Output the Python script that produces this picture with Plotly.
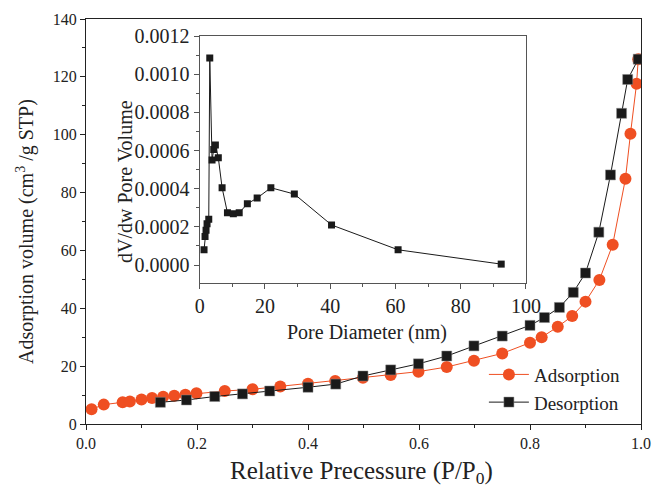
import plotly.graph_objects as go

# Main isotherm data
ads_p = [0.01, 0.032, 0.066, 0.079, 0.100, 0.119, 0.139, 0.159, 0.179, 0.199, 0.25, 0.30, 0.35, 0.40,
         0.449, 0.499, 0.549, 0.599, 0.650, 0.699, 0.750, 0.800, 0.821, 0.850, 0.876, 0.900, 0.925,
         0.949, 0.972, 0.981, 0.992, 0.995]
ads_v = [5.1, 6.7, 7.5, 7.8, 8.5, 9.0, 9.4, 9.8, 10.1, 10.6, 11.4, 12.0, 13.0, 13.9,
         14.9, 16.0, 16.9, 18.1, 19.7, 21.9, 24.4, 28.1, 30.0, 33.6, 37.3, 42.3, 49.8,
         62.0, 84.8, 100.3, 117.6, 126.1]
des_p = [0.134, 0.181, 0.232, 0.282, 0.331, 0.40, 0.450, 0.499, 0.549, 0.599, 0.650, 0.699, 0.750,
         0.800, 0.826, 0.853, 0.878, 0.900, 0.924, 0.945, 0.965, 0.976, 0.995]
des_v = [7.5, 8.3, 9.5, 10.4, 11.4, 12.7, 13.8, 16.6, 18.7, 20.8, 23.5, 27.0, 30.4,
         34.1, 36.8, 40.3, 45.5, 52.2, 66.3, 86.1, 107.4, 119.1, 126.1]

# Inset pore size distribution
pore_d = [1.32, 1.63, 1.94, 2.25, 2.77, 3.08, 3.78, 4.3, 4.8, 5.7, 6.86, 8.5, 10.3, 12.1, 14.6,
          17.6, 21.8, 29.0, 40.4, 60.8, 92.4]
pore_v = [0.00008, 0.000150, 0.000182, 0.000217, 0.000240, 0.001085, 0.000550, 0.000606, 0.000629,
          0.000562, 0.000405, 0.000274, 0.000269, 0.000274, 0.000321, 0.000351, 0.000405, 0.000372,
          0.000210, 0.00008, 0.000005]

main_xticks = [0.0, 0.2, 0.4, 0.6, 0.8, 1.0]
main_yticks = [0, 20, 40, 60, 80, 100, 120, 140]
inset_xticks = [0, 20, 40, 60, 80, 100]
inset_yticks = [0.0, 0.0002, 0.0004, 0.0006, 0.0008, 0.0010, 0.0012]

ORANGE = "#EF4F22"
FONT = "Liberation Serif"
TXT = "#222"

fig = go.Figure()
fig.add_trace(go.Scatter(x=ads_p, y=ads_v, mode="lines+markers", name="Adsorption",
                         line=dict(color=ORANGE, width=1),
                         marker=dict(symbol="circle", size=12, color=ORANGE)))
fig.add_trace(go.Scatter(x=des_p, y=des_v, mode="lines+markers", name="Desorption",
                         line=dict(color="#1a1a1a", width=1),
                         marker=dict(symbol="square", size=10, color="#1a1a1a",
                                     line=dict(color="#888", width=0.5))))
fig.add_trace(go.Scatter(x=pore_d, y=pore_v, mode="lines+markers", showlegend=False,
                         xaxis="x2", yaxis="y2",
                         line=dict(color="#1a1a1a", width=1),
                         marker=dict(symbol="square", size=7, color="#1a1a1a")))

axis_common = dict(showgrid=False, zeroline=False, ticks="outside", showline=True,
                   linecolor="#222", linewidth=1.2, tickcolor="#222", mirror=True, automargin=False)

fig.update_layout(
    width=653, height=487,
    margin=dict(l=86, r=12, t=19, b=63, autoexpand=False),
    paper_bgcolor="white", plot_bgcolor="white",
    font=dict(family=FONT, color=TXT),
    xaxis=dict(**axis_common, range=[0, 1.0], tickvals=main_xticks,
               ticktext=[f"{v:.1f}" for v in main_xticks], ticklen=5,
               minor=dict(ticks="outside", dtick=0.1, ticklen=3, tickcolor="#222"),
               tickfont=dict(size=16, family=FONT)),
    yaxis=dict(**axis_common, range=[0, 140], tickvals=main_yticks, ticklen=5,
               minor=dict(ticks="outside", dtick=10, ticklen=3, tickcolor="#222"),
               tickfont=dict(size=16, family=FONT)),
    xaxis2=dict(showgrid=False, zeroline=False, ticks="outside", showline=True, mirror=True,
                linecolor="#555", linewidth=1.2, tickcolor="#555", automargin=False,
                domain=[0.2049, 0.7928], anchor="y2", range=[0, 100], tickvals=inset_xticks,
                ticklen=5, minor=dict(ticks="outside", dtick=10, ticklen=3, tickcolor="#555"),
                tickfont=dict(size=20, family=FONT)),
    yaxis2=dict(showgrid=False, zeroline=False, ticks="outside", showline=True, mirror=True,
                linecolor="#555", linewidth=1.2, tickcolor="#555", automargin=False,
                domain=[0.348, 0.958], anchor="x2", range=[-0.0000943, 0.0012], tickvals=inset_yticks,
                ticktext=[f"{v:.4f}" for v in inset_yticks], ticklen=5,
                minor=dict(ticks="outside", dtick=0.0001, ticklen=3, tickcolor="#555"),
                tickfont=dict(size=20, family=FONT)),
    legend=dict(x=0.971, y=0.006, xanchor="right", yanchor="bottom", bgcolor="rgba(0,0,0,0)",
                font=dict(size=19, family=FONT), itemwidth=40, tracegroupgap=0),
)

# Axis titles placed as annotations to match the reference positions
fig.add_annotation(text="Relative Precessure (P/P<sub>0</sub>)", xref="paper", yref="paper",
                   x=0.497, y=-0.119, showarrow=False,
                   font=dict(size=25, family=FONT, color=TXT), xanchor="center", yanchor="middle")
fig.add_annotation(text="Adsorption volume (cm<sup>3</sup> /g STP)", xref="paper", yref="paper",
                   x=-0.11, y=0.4765, textangle=-90, showarrow=False,
                   font=dict(size=20, family=FONT, color=TXT), xanchor="center", yanchor="middle")
fig.add_annotation(text="Pore Diameter (nm)", xref="paper", yref="paper",
                   x=0.506, y=0.227, showarrow=False,
                   font=dict(size=20, family=FONT, color=TXT), xanchor="center", yanchor="middle")
fig.add_annotation(text="dV/dw Pore Volume", xref="paper", yref="paper",
                   x=0.0703, y=0.5975, textangle=-90, showarrow=False,
                   font=dict(size=20, family=FONT, color=TXT), xanchor="center", yanchor="middle")

fig.write_html("out.html")
